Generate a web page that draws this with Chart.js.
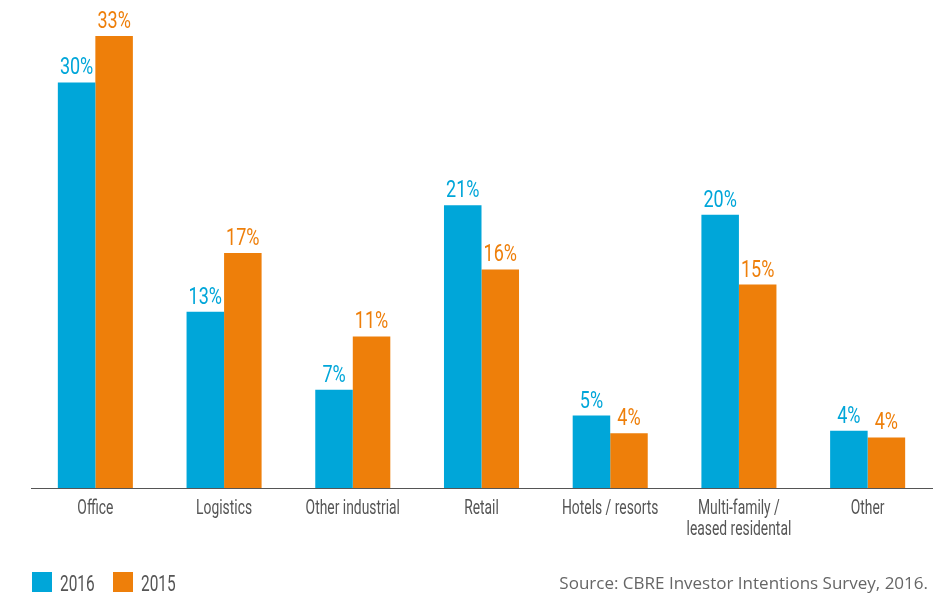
<!DOCTYPE html>
<html>
<head>
<meta charset="utf-8">
<script src="https://cdn.jsdelivr.net/npm/chart.js@4"></script>
<style>
  body { margin: 0; background: #fff; }
  #wrap { position: relative; width: 944px; height: 596px; overflow: hidden; }
  #source { position: absolute; right: 16px; top: 571px; font: 17px 'Open Sans', sans-serif; color: #666; white-space: nowrap; }
</style>
</head>
<body>
<div id="wrap">
  <canvas id="barChart" width="944" height="596"></canvas>
  <div id="source">Source: CBRE Investor Intentions Survey, 2016.</div>
</div>
<script>
var categories = ['Office', 'Logistics', 'Other industrial', 'Retail', 'Hotels / resorts', ['Multi-family /', 'leased residental'], 'Other'];
var values2016 = [29.7, 12.9, 7.2, 20.7, 5.3, 20.0, 4.2];
var values2015 = [33.1, 17.2, 11.1, 16.0, 4.0, 14.9, 3.7];
var labels2016 = ['30%', '13%', '7%', '21%', '5%', '20%', '4%'];
var labels2015 = ['33%', '17%', '11%', '16%', '4%', '15%', '4%'];

var family = "Roboto, sans-serif";

// no condensed font is installed, so squeeze text horizontally
function narrowText(ctx, text, x, y, squeeze) {
    ctx.save();
    ctx.translate(x, y);
    ctx.scale(squeeze, 1);
    ctx.fillText(text, 0, 0);
    ctx.restore();
}

// value labels, category labels and legend in the narrow style of the original
var narrowLabels = {
    id: 'narrowLabels',
    afterDraw: function(chart) {
        var ctx = chart.ctx;
        var xScale = chart.scales.x;
        ctx.save();
        ctx.textBaseline = 'alphabetic';

        // percent above each bar
        ctx.textAlign = 'center';
        ctx.font = '24px ' + family;
        chart.data.datasets.forEach(function(ds, i) {
            var meta = chart.getDatasetMeta(i);
            meta.data.forEach(function(bar, j) {
                ctx.fillStyle = ds.backgroundColor;
                narrowText(ctx, ds.labelText[j], bar.x, bar.y - 8, 0.75);
            });
        });

        // category names under the axis
        ctx.font = '21px ' + family;
        ctx.fillStyle = '#555';
        chart.data.labels.forEach(function(lab, i) {
            var lines = Array.isArray(lab) ? lab : [lab];
            var x = xScale.getPixelForValue(i);
            lines.forEach(function(line, k) {
                narrowText(ctx, line, x, xScale.top + 26 + k * 21, 0.66);
            });
        });

        // legend
        ctx.textAlign = 'left';
        ctx.font = '22px ' + family;
        var lx = 32;
        chart.data.datasets.forEach(function(ds) {
            ctx.fillStyle = ds.backgroundColor;
            ctx.fillRect(lx, 572, 20, 20);
            ctx.fillStyle = '#555';
            narrowText(ctx, ds.label, lx + 28, 591, 0.7);
            lx += 81;
        });
        ctx.restore();
    }
};

var ctx = document.getElementById('barChart').getContext('2d');
var myChart = new Chart(ctx, {
    type: 'bar',
    data: {
        labels: categories,
        datasets: [{
            label: '2016',
            data: values2016,
            labelText: labels2016,
            backgroundColor: '#00a6d9'
        }, {
            label: '2015',
            data: values2015,
            labelText: labels2015,
            backgroundColor: '#ee7f0a'
        }]
    },
    options: {
        responsive: false,
        animation: false,
        layout: { padding: { left: 12, right: 12, top: 10, bottom: 0 } },
        categoryPercentage: 0.583,
        barPercentage: 1,
        scales: {
            x: {
                grid: { display: false },
                border: { display: true, color: '#555', width: 1 },
                ticks: { display: false },
                afterFit: function(axis) { axis.height = 108; }
            },
            y: {
                display: true,
                min: 0,
                max: 35,
                grid: { display: false },
                border: { display: false },
                ticks: { display: false },
                afterFit: function(axis) { axis.width = 19; }
            }
        },
        plugins: {
            legend: { display: false },
            tooltip: { enabled: false }
        }
    },
    plugins: [narrowLabels]
});
</script>
</body>
</html>
